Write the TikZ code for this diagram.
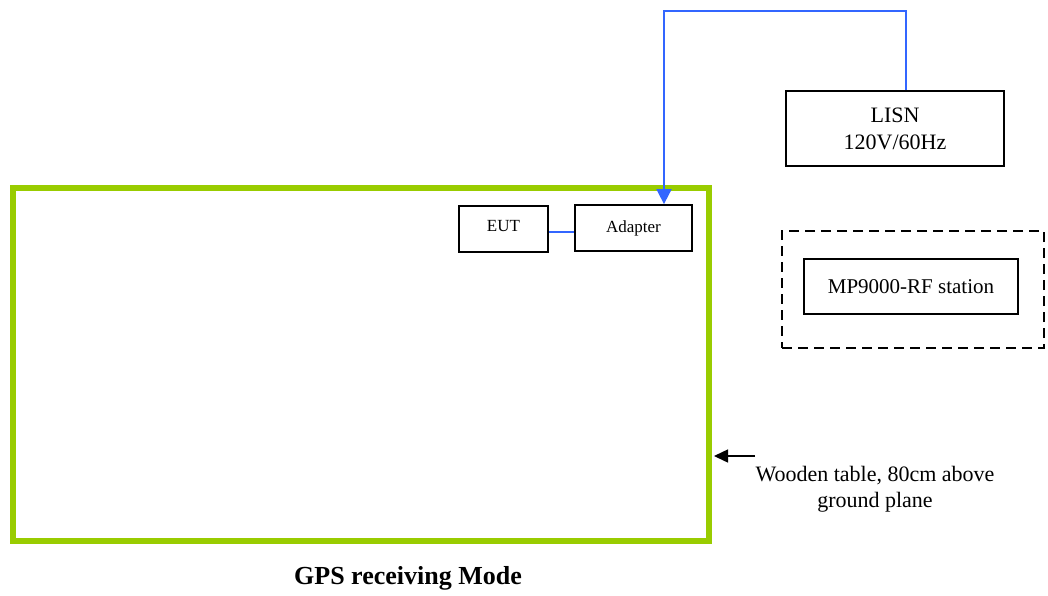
\documentclass[tikz,border=0pt]{standalone}
\usepackage{fontspec}
\setmainfont{Liberation Serif}
\usetikzlibrary{positioning,arrows.meta}
\definecolor{tablegreen}{HTML}{99CC00}
\definecolor{cableblue}{HTML}{3366FF}

\begin{document}
\begin{tikzpicture}[x=1pt,y=-1pt,
    box/.style={draw,line width=1.8pt,inner sep=0pt,align=center},
    cable/.style={draw=cableblue,line width=1.8pt}]
    \useasboundingbox (0,0) rectangle (1048,595);
    \node[draw=tablegreen,line width=6pt,minimum width=696pt,minimum height=353pt,inner sep=0pt] (table) at (361,364.5) {};
    \node[box,minimum width=89pt,minimum height=46pt,text depth=6pt,font=\fontsize{17}{20}\selectfont] (eut) at (503.5,229) {EUT};
    \node[box,minimum width=117pt,minimum height=46pt,font=\fontsize{17}{20}\selectfont] (adapter) at (633.5,228) {Adapter};
    \node[box,minimum width=218pt,minimum height=75pt,font=\fontsize{22}{27}\selectfont] (lisn) at (895,128.5) {LISN\\120V/60Hz};
    \node[draw,line width=1.8pt,dash pattern=on 10pt off 6pt,minimum width=262pt,minimum height=117pt] (station) at (913,289.5) {};
    \node[box,minimum width=214pt,minimum height=55pt,font=\fontsize{21}{25}\selectfont] (mp) at (911,286.5) {MP9000-RF station};
    \node[align=center,font=\fontsize{22}{26}\selectfont] (note) at (875,489) {Wooden table, 80cm above\\ground plane};
    \node[font=\bfseries\fontsize{26}{30}\selectfont] (title) at (408,578) {GPS receiving Mode};
    \coordinate (notearrow) at (755,456);

    \draw[cable,-{Triangle[length=15pt,width=15pt]}] ([xshift=11pt]lisn.north) -- ++(0,-79) -| ([xshift=30.5pt]adapter.north);
    \draw[cable] ([yshift=-3pt]eut.east) -- ([yshift=-3pt]eut.east -| adapter.west);
    \draw[line width=1.5pt,-{Triangle[length=14pt,width=13pt]},shorten >=2pt] (notearrow) -- (notearrow -| table.east);
\end{tikzpicture}
\end{document}
